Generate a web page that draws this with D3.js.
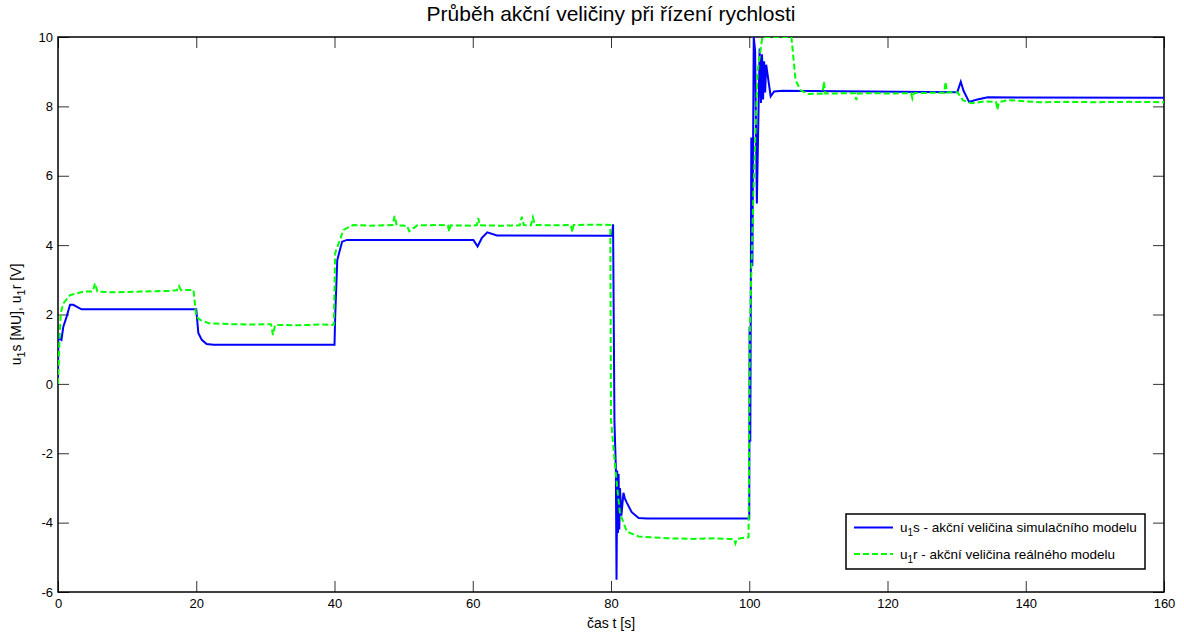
<!DOCTYPE html>
<html>
<head>
<meta charset="utf-8">
<script src="https://cdn.jsdelivr.net/npm/d3@7"></script>
<style>
  body { margin: 0; background: #fff; }
  text { font-family: "Liberation Sans", Arial, sans-serif; fill: #000; }
</style>
</head>
<body>
<div id="graph-display"></div>
<script>
// simulated model: time [s] and action value
const simTime = [0, 0.05, 0.3, 0.5, 0.77, 1.25, 1.74, 2.2, 3.4, 20.0, 20.3, 20.8, 21.5, 22.5,
  40.0, 40.1, 40.4, 41.1, 41.8, 60.1, 60.7, 61.3, 62.1, 63.5,
  80.15, 80.3, 80.5, 80.7, 80.8, 80.9, 81.0, 81.1, 81.2, 81.3, 81.5, 81.8, 82.0, 82.3, 83.0, 84.0, 85.2,
  100.0, 100.05, 100.15, 100.3, 100.45, 100.65, 100.85, 101.1, 101.5, 101.7, 101.85, 102.0, 102.15, 102.3, 102.45,
  103.1, 103.6, 104.8, 130.1, 130.6, 131.0, 131.8, 133.0, 134.5, 160];
const simValue = [0, 1.4, 1.3, 1.27, 1.65, 1.94, 2.28, 2.28, 2.15, 2.15, 1.47, 1.27, 1.15, 1.13,
  1.13, 1.94, 3.57, 4.10, 4.15, 4.15, 3.96, 4.2, 4.37, 4.28,
  4.27, 4.6, -1.1, -2.4, -5.65, -2.5, -4.3, -2.6, -4.2, -3.0, -3.8, -3.14, -3.3, -3.43, -3.7, -3.87, -3.88,
  -3.88, 1.65, -1.66, 7.1, 3.4, 10.0, 9.6, 5.2, 9.67, 8.1, 9.5, 8.2, 9.3, 8.4, 9.2,
  8.29, 8.43, 8.45, 8.41, 8.71, 8.45, 8.13, 8.2, 8.26, 8.25];

// real model: time [s] and action value
const realTime = [0, 0.2, 0.4, 0.77, 1.74, 3.66, 5.0, 5.36, 5.7, 8, 12, 16, 17.2, 17.5, 17.8, 19.6,
  20.0, 20.6, 21.8, 25, 28, 30.8, 31.1, 31.4, 35, 38, 39.9,
  40.1, 41.3, 42.7, 45, 48.4, 48.7, 49.0, 50.5, 50.8, 52, 55, 56.4, 56.6, 56.8, 60, 60.6, 60.8, 61.0, 64,
  66.8, 67.1, 67.4, 68.4, 68.7, 69.0, 72, 74.2, 74.4, 74.6, 78, 79.9,
  80.0, 80.6, 80.9, 81.3, 82.3, 84.0, 88, 92, 95, 97.8, 98.0, 98.2, 99.9,
  100.1, 100.6, 101.2, 101.9, 106.1, 106.7, 107.4, 108.4, 110.6, 110.8, 111.0, 115.3, 115.5, 115.7, 118, 120,
  123.4, 123.6, 123.8, 126, 128.2, 128.4, 128.6, 130.1, 130.9, 132.1, 134.0, 135.7, 135.9, 136.1,
  137.4, 142, 146, 150, 155, 160];
const realValue = [0, 1.2, 2.04, 2.32, 2.56, 2.66, 2.66, 2.9, 2.66, 2.64, 2.66, 2.68, 2.7, 2.82, 2.7, 2.71,
  1.94, 1.84, 1.75, 1.72, 1.71, 1.72, 1.41, 1.7, 1.69, 1.71, 1.70,
  3.77, 4.44, 4.58, 4.56, 4.58, 4.84, 4.57, 4.56, 4.4, 4.57, 4.58, 4.57, 4.39, 4.57, 4.56, 4.58, 4.78, 4.57, 4.56,
  4.57, 4.82, 4.58, 4.57, 4.8, 4.58, 4.57, 4.58, 4.38, 4.58, 4.59, 4.58,
  -1.04, -2.38, -3.0, -3.73, -4.26, -4.40, -4.45, -4.47, -4.45, -4.48, -4.6, -4.47, -4.42,
  1.65, 5.5, 9.0, 10.0, 10.0, 8.76, 8.47, 8.36, 8.37, 8.71, 8.37, 8.38, 8.18, 8.37, 8.38, 8.37,
  8.38, 8.23, 8.38, 8.39, 8.39, 8.71, 8.4, 8.41, 8.18, 8.09, 8.14, 8.13, 7.9, 8.12,
  8.18, 8.12, 8.13, 8.12, 8.13, 8.12];

// axis ticks
const xTicks = [0, 20, 40, 60, 80, 100, 120, 140, 160];
const yTicks = [-6, -4, -2, 0, 2, 4, 6, 8, 10];

const simData = simTime.map((t, i) => [t, simValue[i]]);
const realData = realTime.map((t, i) => [t, realValue[i]]);

const width = 1184;
const height = 633;
const margin = {"top": 37, "right": 20, "bottom": 41, "left": 58};
const graphWidth = width - margin.left - margin.right;
const graphHeight = height - margin.top - margin.bottom;
const tickLen = 11;

const svg = d3.select('#graph-display')
    .append('svg')
    .attr('width', width)
    .attr('height', height);

const xScale = d3.scaleLinear().domain([0, 160]).range([0, graphWidth]);
const yScale = d3.scaleLinear().domain([-6, 10]).range([graphHeight, 0]);

const graph = svg.append('g')
    .attr('transform', `translate(${margin.left}, ${margin.top})`);

graph.append('clipPath').attr('id', 'plot-clip')
    .append('rect')
    .attr('width', graphWidth)
    .attr('height', graphHeight);

// plain hyphen for negatives, like the original
const plain = d => String(d);

// axes, inward ticks on all four sides like matlab
const xAxis = d3.axisBottom(xScale).tickValues(xTicks).tickFormat(plain).tickSizeInner(-tickLen).tickSizeOuter(0).tickPadding(7);
const yAxis = d3.axisLeft(yScale).tickValues(yTicks).tickFormat(plain).tickSizeInner(-tickLen).tickSizeOuter(0).tickPadding(5);
const xAxisTop = d3.axisTop(xScale).tickValues(xTicks).tickSizeInner(-tickLen).tickSizeOuter(0).tickFormat('');
const yAxisRight = d3.axisRight(yScale).tickValues(yTicks).tickSizeInner(-tickLen).tickSizeOuter(0).tickFormat('');

graph.append('g').attr('transform', `translate(0, ${graphHeight})`).call(xAxis);
graph.append('g').call(yAxis);
graph.append('g').call(xAxisTop);
graph.append('g').attr('transform', `translate(${graphWidth}, 0)`).call(yAxisRight);

graph.selectAll('.domain').remove();
graph.selectAll('.tick line').attr('stroke', '#333');
graph.selectAll('.tick text')
    .style('font-size', '13px')
    .style('font-family', '"Liberation Sans", Arial, sans-serif')
    .attr('fill', '#000');

// box around the plot
graph.append('rect')
    .attr('width', graphWidth)
    .attr('height', graphHeight)
    .attr('fill', 'none')
    .attr('stroke', '#000')
    .attr('stroke-width', 1.5);

const line = d3.line()
    .x(d => xScale(d[0]))
    .y(d => yScale(d[1]));

const lines = graph.append('g').attr('clip-path', 'url(#plot-clip)');

lines.append('path')
    .datum(simData)
    .attr('d', line)
    .attr('fill', 'none')
    .attr('stroke', '#0000ff')
    .attr('stroke-width', 2);

lines.append('path')
    .datum(realData)
    .attr('d', line)
    .attr('fill', 'none')
    .attr('stroke', '#00ff00')
    .attr('stroke-width', 2)
    .attr('stroke-dasharray', '6,3');

// title and axis labels
svg.append('text')
    .text('Průběh akční veličiny při řízení rychlosti')
    .attr('x', margin.left + graphWidth / 2)
    .attr('y', 21)
    .attr('text-anchor', 'middle')
    .style('font-size', '21px');

svg.append('text')
    .text('čas t [s]')
    .attr('x', margin.left + graphWidth / 2)
    .attr('y', 628)
    .attr('text-anchor', 'middle')
    .style('font-size', '14px');

const yLabel = svg.append('text')
    .attr('transform', `translate(21, ${margin.top + graphHeight / 2}) rotate(-90)`)
    .attr('text-anchor', 'middle')
    .style('font-size', '14px');
yLabel.append('tspan').text('u');
yLabel.append('tspan').text('1').attr('dy', 4).style('font-size', '11px');
yLabel.append('tspan').text('s [MU], u').attr('dy', -4);
yLabel.append('tspan').text('1').attr('dy', 4).style('font-size', '11px');
yLabel.append('tspan').text('r [V]').attr('dy', -4);

// legend
const legend = svg.append('g').attr('transform', 'translate(846, 514)');
legend.append('rect')
    .attr('width', 299)
    .attr('height', 55)
    .attr('fill', '#fff')
    .attr('stroke', '#000')
    .attr('stroke-width', 1.5);

const legendItems = [
  {"color": "#0000ff", "dash": null, "sub": "s - akční veličina simulačního modelu"},
  {"color": "#00ff00", "dash": "6,3", "sub": "r - akční veličina reálného modelu"}
];

legendItems.forEach((item, i) => {
  const y = 13.5 + i * 26.5;
  legend.append('line')
      .attr('x1', 8).attr('x2', 47)
      .attr('y1', y).attr('y2', y)
      .attr('stroke', item.color)
      .attr('stroke-width', 2)
      .attr('stroke-dasharray', item.dash);
  const t = legend.append('text')
      .attr('x', 54)
      .attr('y', y + 4.5)
      .style('font-size', '13.5px');
  t.append('tspan').text('u');
  t.append('tspan').text('1').attr('dy', 4).style('font-size', '10px');
  t.append('tspan').text(item.sub).attr('dy', -4);
});
</script>
</body>
</html>
